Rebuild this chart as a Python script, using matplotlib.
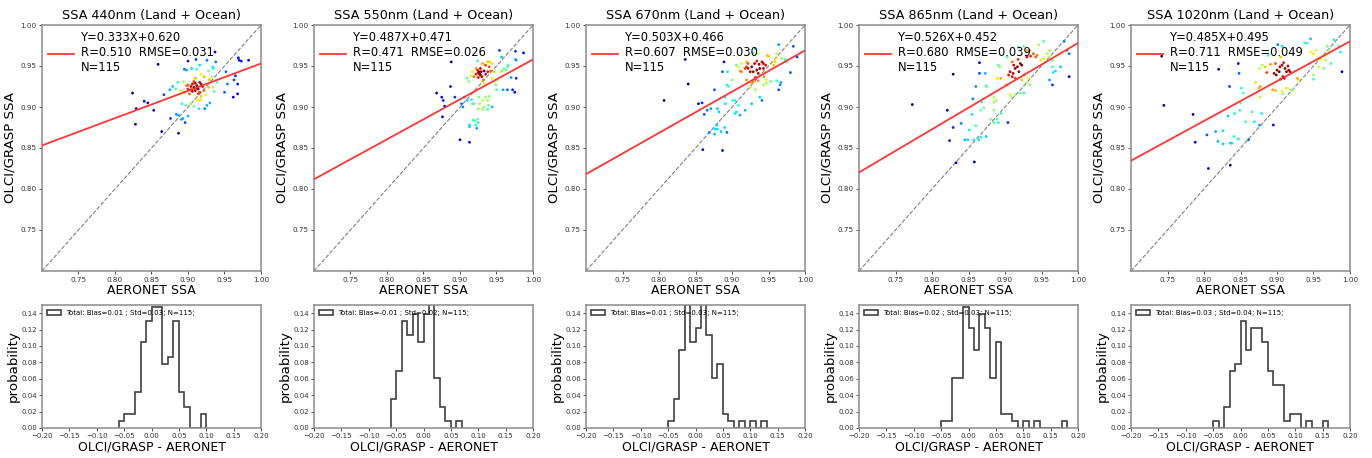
import numpy as np
import matplotlib
matplotlib.use("Agg")
import matplotlib.pyplot as plt

# wavelengths shown in the five columns
wavelengths = ["440nm", "550nm", "670nm", "865nm", "1020nm"]

# linear fit (slope, intercept) and stats printed in each scatter panel
fit_slope = [0.333, 0.487, 0.503, 0.526, 0.485]
fit_icept = [0.620, 0.471, 0.466, 0.452, 0.495]
fit_r = ["0.510", "0.471", "0.607", "0.680", "0.711"]
fit_rmse = ["0.031", "0.026", "0.030", "0.039", "0.049"]
n_total = 115

# (AERONET SSA, OLCI/GRASP SSA) pairs
pts_440 = [
    (0.824, 0.917), (0.829, 0.898), (0.828, 0.879), (0.840, 0.907), (0.845, 0.905),
    (0.853, 0.896), (0.859, 0.952), (0.864, 0.870), (0.876, 0.886), (0.887, 0.868),
    (0.884, 0.891), (0.891, 0.885), (0.893, 0.886), (0.896, 0.881), (0.900, 0.956),
    (0.911, 0.958), (0.926, 0.957), (0.937, 0.967), (0.969, 0.960), (0.970, 0.957),
    (0.973, 0.956), (0.983, 0.957), (0.952, 0.943), (0.965, 0.938), (0.954, 0.928),
    (0.968, 0.928), (0.963, 0.933), (0.950, 0.918), (0.962, 0.912), (0.968, 0.916),
    (0.926, 0.902), (0.923, 0.898),
    (0.895, 0.946), (0.898, 0.945), (0.905, 0.947), (0.887, 0.890), (0.900, 0.889),
    (0.938, 0.955), (0.935, 0.947), (0.908, 0.901), (0.930, 0.905),
    (0.879, 0.925), (0.875, 0.921), (0.867, 0.915), (0.892, 0.904), (0.897, 0.902),
    (0.904, 0.904), (0.915, 0.898), (0.918, 0.940), (0.916, 0.951), (0.928, 0.944),
    (0.934, 0.949), (0.929, 0.933), (0.936, 0.919), (0.934, 0.924), (0.912, 0.946),
    (0.940, 0.930),
    (0.886, 0.930), (0.894, 0.931), (0.900, 0.927), (0.916, 0.908), (0.918, 0.909),
    (0.928, 0.924), (0.930, 0.934), (0.922, 0.937), (0.904, 0.921), (0.912, 0.909),
    (0.925, 0.915), (0.933, 0.937), (0.883, 0.922), (0.910, 0.935),
    (0.890, 0.920), (0.895, 0.918), (0.900, 0.922), (0.904, 0.925), (0.906, 0.928),
    (0.908, 0.924), (0.910, 0.920), (0.912, 0.926), (0.914, 0.922), (0.916, 0.918),
    (0.918, 0.913), (0.914, 0.916), (0.920, 0.925), (0.918, 0.928), (0.910, 0.929),
    (0.906, 0.919), (0.902, 0.916), (0.912, 0.923), (0.916, 0.930), (0.908, 0.931),
    (0.922, 0.920), (0.898, 0.926),
]
pts_550 = [
    (0.868, 0.917), (0.875, 0.912), (0.877, 0.908), (0.879, 0.901), (0.876, 0.888),
    (0.888, 0.955), (0.887, 0.925), (0.893, 0.912), (0.900, 0.860), (0.913, 0.857),
    (0.954, 0.969), (0.957, 0.961), (0.976, 0.968), (0.976, 0.958), (0.977, 0.957),
    (0.987, 0.966), (0.970, 0.936), (0.977, 0.935), (0.959, 0.921), (0.965, 0.921),
    (0.972, 0.921), (0.975, 0.918), (0.902, 0.904), (0.904, 0.900), (0.906, 0.912),
    (0.918, 0.884), (0.920, 0.883), (0.924, 0.885), (0.925, 0.881), (0.922, 0.878),
    (0.913, 0.878), (0.913, 0.876), (0.923, 0.874),
    (0.910, 0.908), (0.916, 0.909), (0.919, 0.904), (0.917, 0.904), (0.910, 0.935),
    (0.912, 0.931), (0.924, 0.956), (0.938, 0.897),
    (0.926, 0.912), (0.931, 0.908), (0.935, 0.912), (0.940, 0.913), (0.938, 0.908),
    (0.927, 0.904), (0.933, 0.900), (0.939, 0.902), (0.931, 0.897), (0.925, 0.898),
    (0.944, 0.900), (0.949, 0.927), (0.950, 0.921), (0.951, 0.933), (0.956, 0.943),
    (0.958, 0.944), (0.963, 0.945), (0.965, 0.949), (0.966, 0.951), (0.960, 0.947),
    (0.938, 0.955), (0.941, 0.955), (0.944, 0.953), (0.935, 0.951), (0.917, 0.943),
    (0.919, 0.937), (0.933, 0.929), (0.935, 0.926), (0.944, 0.935), (0.947, 0.931),
    (0.942, 0.944), (0.931, 0.953), (0.922, 0.947), (0.928, 0.947), (0.940, 0.949),
    (0.947, 0.943), (0.915, 0.938),
    (0.924, 0.945), (0.926, 0.943), (0.928, 0.939), (0.925, 0.936), (0.927, 0.940),
    (0.925, 0.942), (0.929, 0.943), (0.930, 0.937), (0.933, 0.944), (0.935, 0.940),
    (0.938, 0.943), (0.922, 0.940), (0.932, 0.933),
]
pts_670 = [
    (0.807, 0.908), (0.836, 0.958), (0.840, 0.928), (0.860, 0.848), (0.854, 0.904),
    (0.859, 0.905), (0.862, 0.891), (0.866, 0.896), (0.871, 0.898), (0.876, 0.921),
    (0.880, 0.898), (0.882, 0.894), (0.887, 0.943), (0.889, 0.955), (0.890, 0.912),
    (0.887, 0.847), (0.891, 0.904), (0.869, 0.869), (0.877, 0.873), (0.879, 0.878),
    (0.876, 0.867), (0.880, 0.873), (0.890, 0.875), (0.893, 0.869), (0.885, 0.870),
    (0.964, 0.976), (0.984, 0.974), (0.989, 0.961), (0.980, 0.942), (0.961, 0.932),
    (0.967, 0.930), (0.964, 0.921), (0.966, 0.927), (0.932, 0.971),
    (0.901, 0.908), (0.904, 0.908), (0.906, 0.894), (0.909, 0.902), (0.911, 0.890),
    (0.904, 0.892), (0.918, 0.896), (0.927, 0.904), (0.938, 0.912), (0.941, 0.908),
    (0.893, 0.927), (0.895, 0.925), (0.894, 0.943), (0.900, 0.933),
    (0.906, 0.951), (0.909, 0.949), (0.913, 0.953), (0.920, 0.949), (0.925, 0.924),
    (0.932, 0.921), (0.927, 0.929), (0.943, 0.927), (0.947, 0.929), (0.953, 0.931),
    (0.957, 0.951), (0.959, 0.955), (0.973, 0.957), (0.968, 0.959), (0.975, 0.955),
    (0.961, 0.965), (0.973, 0.958), (0.936, 0.965), (0.929, 0.966),
    (0.913, 0.943), (0.911, 0.944), (0.918, 0.947), (0.948, 0.963), (0.950, 0.962),
    (0.959, 0.958), (0.944, 0.937), (0.947, 0.933), (0.932, 0.936), (0.936, 0.932),
    (0.920, 0.933), (0.929, 0.931), (0.922, 0.953),
    (0.920, 0.955), (0.922, 0.947), (0.927, 0.949), (0.931, 0.953), (0.934, 0.956),
    (0.937, 0.952), (0.941, 0.955), (0.943, 0.953), (0.938, 0.947), (0.934, 0.945),
    (0.943, 0.947), (0.929, 0.943), (0.925, 0.943), (0.932, 0.935), (0.946, 0.951),
    (0.936, 0.941),
]
pts_865 = [
    (0.773, 0.903), (0.821, 0.896), (0.824, 0.859), (0.829, 0.940), (0.829, 0.875),
    (0.833, 0.832), (0.840, 0.880), (0.845, 0.860), (0.849, 0.860), (0.851, 0.872),
    (0.855, 0.891), (0.856, 0.910), (0.857, 0.860), (0.858, 0.833), (0.860, 0.925),
    (0.860, 0.877), (0.864, 0.860), (0.865, 0.954), (0.865, 0.941), (0.867, 0.863),
    (0.871, 0.899), (0.868, 0.906), (0.874, 0.864), (0.867, 0.896), (0.881, 0.885),
    (0.885, 0.881), (0.889, 0.885), (0.891, 0.881), (0.895, 0.892), (0.885, 0.896),
    (0.904, 0.881), (0.988, 0.937), (0.976, 0.949), (0.961, 0.933), (0.965, 0.927),
    (0.981, 0.980), (0.966, 0.942), (0.969, 0.944),
    (0.873, 0.941), (0.953, 0.980), (0.926, 0.974), (0.919, 0.973), (0.985, 0.969),
    (0.988, 0.965), (0.885, 0.906), (0.909, 0.912),
    (0.874, 0.926), (0.875, 0.925), (0.885, 0.912), (0.888, 0.908), (0.907, 0.915),
    (0.914, 0.915), (0.921, 0.917), (0.926, 0.917), (0.934, 0.927), (0.930, 0.930),
    (0.946, 0.976), (0.965, 0.949), (0.930, 0.969),
    (0.891, 0.951), (0.893, 0.949), (0.889, 0.935), (0.894, 0.935), (0.902, 0.927),
    (0.903, 0.961), (0.923, 0.933), (0.932, 0.935), (0.953, 0.959), (0.958, 0.965),
    (0.961, 0.969), (0.961, 0.961), (0.965, 0.957), (0.949, 0.957), (0.942, 0.961),
    (0.934, 0.969), (0.905, 0.939),
    (0.907, 0.943), (0.911, 0.941), (0.914, 0.947), (0.917, 0.949), (0.912, 0.951),
    (0.910, 0.955), (0.919, 0.943), (0.923, 0.951), (0.921, 0.953), (0.926, 0.939),
    (0.930, 0.961), (0.935, 0.962), (0.939, 0.965), (0.944, 0.963), (0.914, 0.935),
    (0.910, 0.937), (0.918, 0.958),
]
pts_1020 = [
    (0.742, 0.962), (0.745, 0.902), (0.785, 0.891), (0.788, 0.857), (0.804, 0.866),
    (0.806, 0.825), (0.816, 0.870), (0.819, 0.858), (0.820, 0.946), (0.826, 0.855),
    (0.826, 0.871), (0.833, 0.889), (0.835, 0.925), (0.836, 0.856), (0.836, 0.829),
    (0.838, 0.856), (0.841, 0.864), (0.842, 0.892), (0.847, 0.861), (0.847, 0.953),
    (0.848, 0.941), (0.849, 0.896), (0.850, 0.905), (0.851, 0.923), (0.854, 0.917),
    (0.857, 0.882), (0.861, 0.860), (0.866, 0.894), (0.869, 0.882), (0.876, 0.878),
    (0.879, 0.892), (0.895, 0.878), (0.989, 0.943), (0.950, 0.934), (0.950, 0.939),
    (0.901, 0.976), (0.907, 0.974), (0.880, 0.951), (0.946, 0.983), (0.875, 0.923),
    (0.888, 0.963),
    (0.871, 0.930), (0.877, 0.925), (0.877, 0.912), (0.876, 0.947), (0.894, 0.921),
    (0.898, 0.920), (0.907, 0.919), (0.908, 0.916), (0.913, 0.923), (0.918, 0.921),
    (0.922, 0.921), (0.938, 0.978), (0.941, 0.978), (0.985, 0.974), (0.987, 0.967),
    (0.967, 0.957), (0.974, 0.953), (0.964, 0.947),
    (0.884, 0.949), (0.886, 0.942), (0.891, 0.952), (0.898, 0.953), (0.905, 0.961),
    (0.928, 0.935), (0.930, 0.933), (0.946, 0.967), (0.950, 0.965), (0.954, 0.969),
    (0.957, 0.949), (0.969, 0.974), (0.971, 0.969), (0.965, 0.963), (0.960, 0.958),
    (0.978, 0.982), (0.955, 0.958),
    (0.896, 0.941), (0.899, 0.939), (0.900, 0.945), (0.904, 0.949), (0.907, 0.951),
    (0.909, 0.954), (0.911, 0.947), (0.913, 0.943), (0.915, 0.950), (0.916, 0.945),
    (0.918, 0.943), (0.908, 0.937), (0.905, 0.934), (0.910, 0.935), (0.903, 0.943),
]
scatter_pts = [pts_440, pts_550, pts_670, pts_865, pts_1020]

# histogram of OLCI/GRASP - AERONET: first bin edge and counts per 0.01 bin
hist_start = [-0.06, -0.06, -0.05, -0.05, -0.05]
hist_counts = [
    [1, 2, 2, 5, 12, 15, 17, 17, 9, 10, 15, 5, 3, 0, 0, 2],
    [4, 8, 15, 13, 16, 12, 16, 19, 7, 3, 1, 0, 1],
    [1, 4, 11, 19, 12, 14, 19, 13, 7, 9, 2, 1, 0, 1, 0, 1, 0, 1],
    [1, 1, 7, 7, 17, 14, 11, 16, 14, 7, 12, 2, 2, 1, 0, 1, 0, 1, 0, 0, 0, 0, 1],
    [1, 0, 3, 8, 9, 15, 11, 14, 14, 12, 8, 6, 6, 1, 2, 2, 0, 1, 0, 0, 1],
]
hist_bias = ["0.01", "-0.01", "0.01", "0.02", "0.03"]
hist_std = ["0.03", "0.02", "0.03", "0.03", "0.04"]
bin_width = 0.01


def point_density(x, y):
    # gaussian kernel density (Scott bandwidth) evaluated at each point
    xy = np.vstack([x, y])
    n = xy.shape[1]
    cov = np.cov(xy) * n ** (-1.0 / 3.0)
    inv = np.linalg.inv(cov)
    d = xy[:, :, None] - xy[:, None, :]
    q = np.einsum('ijk,il,ljk->jk', d, inv, d)
    return np.exp(-0.5 * q).sum(axis=1)


W, H = 1372, 458
fig = plt.figure(figsize=(W / 100, H / 100), dpi=100)
lefts = [42, 314, 586, 859, 1131]
ax_w = 219
spine_col = '#8a8a8a'

for i in range(5):
    # scatter panel
    ax = fig.add_axes([lefts[i] / W, 1 - 271 / H, ax_w / W, 246 / H])
    p = np.array(scatter_pts[i])
    x, y = p[:, 0], p[:, 1]
    z = point_density(x, y)
    order = np.argsort(z)
    ax.scatter(x[order], y[order], c=z[order], cmap='jet', s=4, lw=0, zorder=3)
    xs = np.array([0.7, 1.0])
    label = (f"Y={fit_slope[i]:.3f}X+{fit_icept[i]:.3f}\n"
             f"R={fit_r[i]}  RMSE={fit_rmse[i]}\nN={n_total}")
    ax.plot(xs, fit_slope[i] * xs + fit_icept[i], color='#ff3535', lw=1.3,
            label=label, zorder=4)
    ax.plot(xs, xs, '--', color='gray', lw=0.8, zorder=2)
    ax.set_xlim(0.7, 1.0)
    ax.set_ylim(0.7, 1.0)
    ticks = [0.75, 0.80, 0.85, 0.90, 0.95, 1.00]
    ax.set_xticks(ticks)
    ax.set_yticks(ticks)
    ax.set_xticklabels([f"{t:.2f}" for t in ticks])
    ax.set_yticklabels([f"{t:.2f}" for t in ticks])
    ax.tick_params(labelsize=5.2, length=2, width=0.6, colors='#333333',
                   pad=2)
    for s in ax.spines.values():
        s.set_color(spine_col)
        s.set_linewidth(1.1)
    ax.set_title(f"SSA {wavelengths[i]} (Land + Ocean)", fontsize=9.2, pad=4)
    ax.set_xlabel("AERONET SSA", fontsize=9, labelpad=1)
    ax.set_ylabel("OLCI/GRASP SSA", fontsize=9.6, labelpad=3)
    ax.legend(loc='upper left', frameon=False, fontsize=8.3, handlelength=2.2,
              handletextpad=0.6, borderaxespad=0.25, borderpad=0.3)

    # histogram panel
    hx = fig.add_axes([lefts[i] / W, 1 - 428 / H, ax_w / W, 123 / H])
    counts = np.array(hist_counts[i], dtype=float)
    edges = hist_start[i] + bin_width * np.arange(len(counts) + 1)
    centers = edges[:-1] + bin_width / 2
    hx.hist(centers, bins=edges, weights=counts / n_total, histtype='step',
            color='#404040', lw=1.2,
            label=f"Total: Bias={hist_bias[i]} ; Std={hist_std[i]}; N={n_total};")
    hx.set_xlim(-0.2, 0.2)
    hx.set_ylim(0, 0.15)
    hx.set_xticks(np.round(np.arange(-0.20, 0.201, 0.05), 2))
    hx.set_yticks(np.round(np.arange(0, 0.141, 0.02), 2))
    hx.tick_params(labelsize=5, length=2, width=0.6, colors='#333333', pad=1.5)
    for s in hx.spines.values():
        s.set_color(spine_col)
        s.set_linewidth(1.1)
    hx.set_xlabel("OLCI/GRASP - AERONET", fontsize=9, labelpad=1)
    hx.set_ylabel("probability", fontsize=9.6, labelpad=1)
    hx.legend(loc='upper left', frameon=False, fontsize=5, handlelength=2.0,
              borderaxespad=0.3, handletextpad=0.8)

fig.savefig("out.png", dpi=100)
